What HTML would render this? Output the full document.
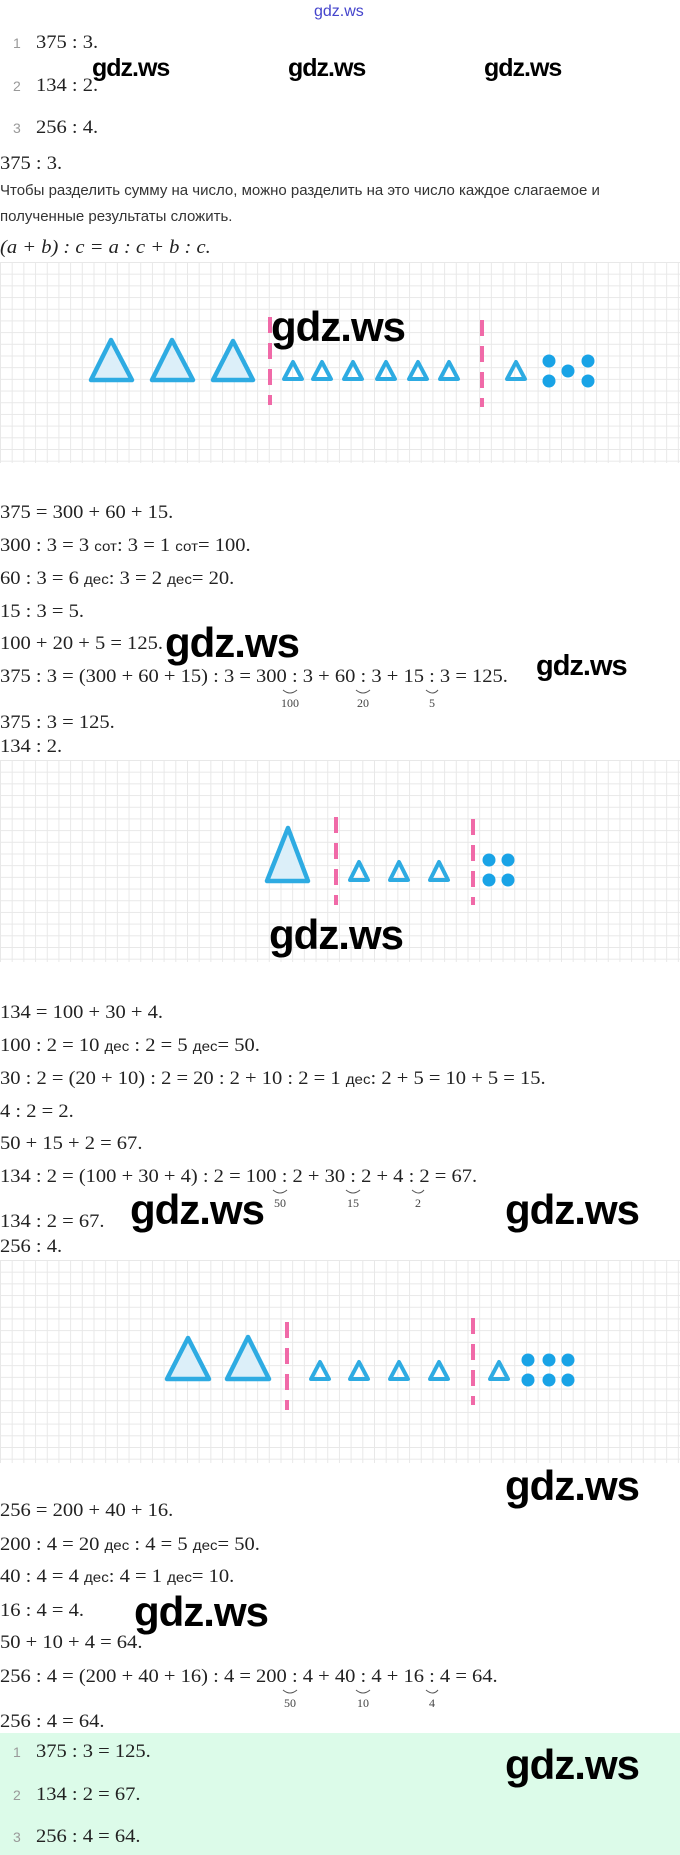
<!DOCTYPE html>
<html><head><meta charset="utf-8"><style>
body{margin:0;width:680px;height:1855px;position:relative;background:#fff;overflow:hidden}
.t{position:absolute;white-space:nowrap;font-family:"Liberation Serif",serif;font-size:19px;color:#222;line-height:24px;transform:scaleX(1.08);transform-origin:0 0}
.r{font-family:"Liberation Sans","Noto Sans CJK SC",sans-serif;font-size:15px;color:#333;transform:none}
.n{position:absolute;font-family:"Liberation Sans",sans-serif;font-size:14px;color:#999;line-height:24px}
.s{position:absolute;font-family:"Liberation Serif",serif;font-size:12px;color:#444;line-height:14px;transform:translateX(-50%)}
.w{position:absolute;font-family:"Liberation Sans",sans-serif;font-weight:bold;color:#000;line-height:1;white-space:nowrap;letter-spacing:-1px}
.g{position:absolute;left:0;width:680px;background-color:#fff;background-image:linear-gradient(#e8e8e8 1px,transparent 1px),linear-gradient(90deg,#e8e8e8 1px,transparent 1px);background-size:11.7px 11.7px}
.u{font-family:"Liberation Sans",sans-serif;font-size:14px}
</style></head><body>
<div class="t" style="left:314px;top:3px;font-family:'Liberation Sans',sans-serif;font-size:16px;color:#4444cc;line-height:18px;transform:none">gdz.ws</div>

<div class="n" style="left:13px;top:31px">1</div><div class="t" style="left:36px;top:31px">375 : 3.</div>
<div class="n" style="left:13px;top:74px">2</div><div class="t" style="left:36px;top:74px">134 : 2.</div>
<div class="n" style="left:13px;top:116px">3</div><div class="t" style="left:36px;top:116px">256 : 4.</div>
<div class="w" style="left:92px;top:56px;font-size:25px">gdz.ws</div>
<div class="w" style="left:288px;top:56px;font-size:25px">gdz.ws</div>
<div class="w" style="left:484px;top:56px;font-size:25px">gdz.ws</div>

<div class="t" style="left:0;top:152px">375 : 3.</div>
<div class="t r" style="left:0;top:179px">Чтобы разделить сумму на число, можно разделить на это число каждое слагаемое и</div>
<div class="t r" style="left:0;top:205px">полученные результаты сложить.</div>
<div class="t" style="left:0;top:236px;font-style:italic">(a + b) : c = a : c + b : c.</div>

<div class="g" style="top:262px;height:201px"></div>
<div class="g" style="top:760px;height:202px"></div>
<div class="g" style="top:1260px;height:203px"></div>

<div class="t" style="left:0;top:501px">375 = 300 + 60 + 15.</div>
<div class="t" style="left:0;top:534px">300 : 3 = 3 <span class="u">сот</span>: 3 = 1 <span class="u">сот</span>= 100.</div>
<div class="t" style="left:0;top:567px">60 : 3 = 6 <span class="u">дес</span>: 3 = 2 <span class="u">дес</span>= 20.</div>
<div class="t" style="left:0;top:600px">15 : 3 = 5.</div>
<div class="t" style="left:0;top:632px">100 + 20 + 5 = 125.</div>
<div class="t" style="left:0;top:665px">375 : 3 = (300 + 60 + 15) : 3 = 300 : 3 + 60 : 3 + 15 : 3 = 125.</div>
<div class="s" style="left:290px;top:696px">100</div><div class="s" style="left:363px;top:696px">20</div><div class="s" style="left:432px;top:696px">5</div>
<div class="t" style="left:0;top:711px">375 : 3 = 125.</div>
<div class="t" style="left:0;top:735px">134 : 2.</div>
<div class="w" style="left:165px;top:622px;font-size:42px">gdz.ws</div>
<div class="w" style="left:536px;top:652px;font-size:29px">gdz.ws</div>
<div class="w" style="left:269px;top:914px;font-size:42px">gdz.ws</div>

<div class="t" style="left:0;top:1001px">134 = 100 + 30 + 4.</div>
<div class="t" style="left:0;top:1034px">100 : 2 = 10 <span class="u">дес</span> : 2 = 5 <span class="u">дес</span>= 50.</div>
<div class="t" style="left:0;top:1067px">30 : 2 = (20 + 10) : 2 = 20 : 2 + 10 : 2 = 1 <span class="u">дес</span>: 2 + 5 = 10 + 5 = 15.</div>
<div class="t" style="left:0;top:1100px">4 : 2 = 2.</div>
<div class="t" style="left:0;top:1132px">50 + 15 + 2 = 67.</div>
<div class="t" style="left:0;top:1165px">134 : 2 = (100 + 30 + 4) : 2 = 100 : 2 + 30 : 2 + 4 : 2 = 67.</div>
<div class="s" style="left:280px;top:1196px">50</div><div class="s" style="left:353px;top:1196px">15</div><div class="s" style="left:418px;top:1196px">2</div>
<div class="t" style="left:0;top:1210px">134 : 2 = 67.</div>
<div class="t" style="left:0;top:1235px">256 : 4.</div>
<div class="w" style="left:130px;top:1189px;font-size:42px">gdz.ws</div>
<div class="w" style="left:505px;top:1189px;font-size:42px">gdz.ws</div>

<div class="w" style="left:505px;top:1465px;font-size:42px">gdz.ws</div>
<div class="t" style="left:0;top:1499px">256 = 200 + 40 + 16.</div>
<div class="t" style="left:0;top:1533px">200 : 4 = 20 <span class="u">дес</span> : 4 = 5 <span class="u">дес</span>= 50.</div>
<div class="t" style="left:0;top:1565px">40 : 4 = 4 <span class="u">дес</span>: 4 = 1 <span class="u">дес</span>= 10.</div>
<div class="t" style="left:0;top:1599px">16 : 4 = 4.</div>
<div class="t" style="left:0;top:1631px">50 + 10 + 4 = 64.</div>
<div class="t" style="left:0;top:1665px">256 : 4 = (200 + 40 + 16) : 4 = 200 : 4 + 40 : 4 + 16 : 4 = 64.</div>
<div class="s" style="left:290px;top:1696px">50</div><div class="s" style="left:363px;top:1696px">10</div><div class="s" style="left:432px;top:1696px">4</div>
<div class="t" style="left:0;top:1710px">256 : 4 = 64.</div>
<div class="w" style="left:134px;top:1591px;font-size:42px">gdz.ws</div>

<div style="position:absolute;left:0;top:1733px;width:680px;height:122px;background:#dcfbe9"></div>
<div class="n" style="left:13px;top:1740px">1</div><div class="t" style="left:36px;top:1740px">375 : 3 = 125.</div>
<div class="n" style="left:13px;top:1783px">2</div><div class="t" style="left:36px;top:1783px">134 : 2 = 67.</div>
<div class="n" style="left:13px;top:1825px">3</div><div class="t" style="left:36px;top:1825px">256 : 4 = 64.</div>
<div class="w" style="left:505px;top:1744px;font-size:42px">gdz.ws</div>

<svg style="position:absolute;left:0;top:0" width="680" height="1855">
<g fill="none" stroke="#555" stroke-width="1">
<path d="M283 690 q7 6 14 0"/><path d="M356 690 q7 6 14 0"/><path d="M426 690 q7 6 12 0"/>
<path d="M273 1190 q7 6 14 0"/><path d="M346 1190 q7 6 14 0"/><path d="M412 1190 q7 6 12 0"/>
<path d="M283 1690 q7 6 14 0"/><path d="M356 1690 q7 6 14 0"/><path d="M426 1690 q7 6 12 0"/>
</g>
<g stroke="#f06aa8" stroke-width="4" stroke-dasharray="16 10">
<line x1="270" y1="317" x2="270" y2="405"/><line x1="482" y1="320" x2="482" y2="407"/>
<line x1="336" y1="817" x2="336" y2="905"/><line x1="473" y1="819" x2="473" y2="905"/>
<line x1="287" y1="1322" x2="287" y2="1410"/><line x1="473" y1="1318" x2="473" y2="1405"/>
</g>
<g stroke="#2eabe2" stroke-width="4.5" stroke-linejoin="round" fill="#dceff9">
<path d="M111 340 L132 380 L91 380Z"/><path d="M172 340 L193 380 L152 380Z"/><path d="M233 341 L253 380 L213 380Z"/>
<path d="M288 828 L308 881 L267 881Z"/>
<path d="M188 1338 L209 1379 L167 1379Z"/><path d="M248 1337 L269 1379 L227 1379Z"/>
</g>
<g stroke="#2eabe2" stroke-width="4" stroke-linejoin="round" fill="none">
<path d="M293 362 L302 379 L284 379Z"/><path d="M322 362 L331 379 L313 379Z"/><path d="M353 362 L362 379 L344 379Z"/><path d="M386 362 L395 379 L377 379Z"/><path d="M418 362 L427 379 L409 379Z"/><path d="M449 362 L458 379 L440 379Z"/><path d="M516 362 L525 379 L507 379Z"/>
<path d="M359 862 L368 880 L350 880Z"/><path d="M399 862 L408 880 L390 880Z"/><path d="M439 862 L448 880 L430 880Z"/>
<path d="M320 1362 L329 1379 L311 1379Z"/><path d="M359 1362 L368 1379 L350 1379Z"/><path d="M399 1362 L408 1379 L390 1379Z"/><path d="M439 1362 L448 1379 L430 1379Z"/><path d="M499 1362 L508 1379 L490 1379Z"/>
</g>
<g fill="#19a3e6">
<circle cx="549" cy="361" r="6.5"/><circle cx="588" cy="361" r="6.5"/><circle cx="568" cy="371" r="6.5"/><circle cx="549" cy="381" r="6.5"/><circle cx="588" cy="381" r="6.5"/>
<circle cx="489" cy="860" r="6.5"/><circle cx="508" cy="860" r="6.5"/><circle cx="489" cy="880" r="6.5"/><circle cx="508" cy="880" r="6.5"/>
<circle cx="528" cy="1360" r="6.5"/><circle cx="549" cy="1360" r="6.5"/><circle cx="568" cy="1360" r="6.5"/><circle cx="528" cy="1380" r="6.5"/><circle cx="549" cy="1380" r="6.5"/><circle cx="568" cy="1380" r="6.5"/>
</g>
</svg>
<div class="w" style="left:271px;top:306px;font-size:42px">gdz.ws</div>
</body></html>
